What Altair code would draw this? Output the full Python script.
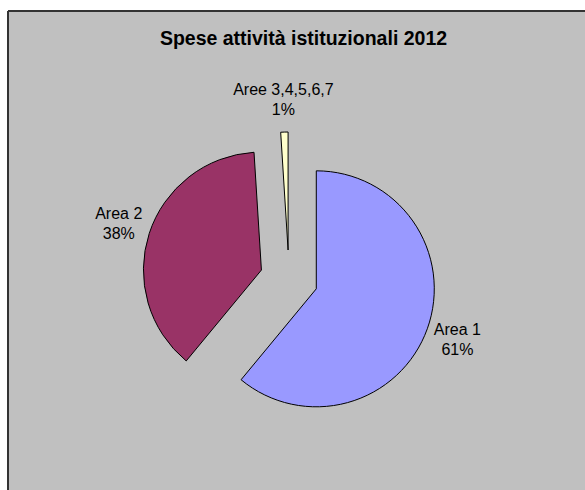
import altair as alt
import pandas as pd

# Data
categories = ["Area 1", "Area 2", "Aree 3,4,5,6,7"]
values = [61, 38, 1]
colors = ["#9999FF", "#993366", "#FFFFCC"]
order = [0, 1, 2]

df = pd.DataFrame({"cat": categories, "value": values, "ord": order})

W, H = 577, 479
CX, CY = 281, 268          # pie centre within the plot area
EXPLODE = 29               # explosion distance (px)
R = 118                    # pie radius
LR = 179                   # label radius from centre
LH = 20                    # label line height

base = (
    alt.Chart(df)
    .transform_joinaggregate(total="sum(value)")
    .transform_window(cum="sum(value)", sort=[alt.SortField("ord")], frame=[None, 0])
    .transform_calculate(
        start="(datum.cum - datum.value) / datum.total * 2 * PI",
        end="datum.cum / datum.total * 2 * PI",
    )
    .transform_calculate(mid="(datum.start + datum.end) / 2")
    .transform_calculate(
        cx=f"{CX} + {EXPLODE} * sin(datum.mid)",
        cy=f"{CY} - {EXPLODE} * cos(datum.mid)",
        lx=f"{CX} + {LR} * sin(datum.mid)",
        ly=f"{CY} - {LR} * cos(datum.mid)",
        txt="datum.cat + '\\n' + round(datum.value / datum.total * 100) + '%'",
    )
)

arcs = base.mark_arc(radius=R, stroke="black", strokeWidth=1).encode(
    theta=alt.Theta("start:Q", scale=None, stack=None),
    theta2="end:Q",
    x=alt.X("cx:Q", scale=None, axis=None),
    y=alt.Y("cy:Q", scale=None, axis=None),
    color=alt.Color("cat:N", scale=alt.Scale(domain=categories, range=colors), legend=None),
)

labels = base.mark_text(
    lineBreak="\n", fontSize=16, font="Liberation Sans", align="center",
    baseline="middle", color="#000000", lineHeight=LH, dy=-LH / 2,
).encode(
    x=alt.X("lx:Q", scale=None, axis=None),
    y=alt.Y("ly:Q", scale=None, axis=None),
    text="txt:N",
)

left_border = alt.Chart(df).mark_rule(color="#333333", strokeWidth=2).encode(
    x=alt.value(0), y=alt.value(0), y2=alt.value(H)
)
top_border = alt.Chart(df).mark_rule(color="#333333", strokeWidth=2).encode(
    x=alt.value(0), x2=alt.value(W), y=alt.value(0)
)

chart = (
    alt.layer(arcs, labels, left_border, top_border)
    .properties(
        width=W,
        height=H,
        padding={"left": 8, "top": 11, "right": 0, "bottom": 0},
        autosize=alt.AutoSizeParams(type="none"),
        background="white",
        title=alt.TitleParams(
            "Spese attività istituzionali 2012",
            font="Liberation Sans", fontSize=19.5, fontWeight="bold", color="black",
            anchor="middle", dy=43, dx=7,
        ),
    )
    .configure_view(fill="#C0C0C0", stroke=None)
)

chart.save("out.html", embed_options={"renderer": "svg", "actions": False})
